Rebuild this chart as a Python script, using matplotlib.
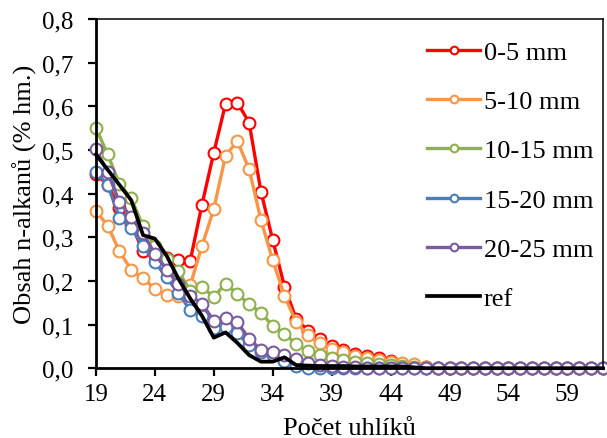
import matplotlib
matplotlib.use('Agg')
import matplotlib.pyplot as plt
from matplotlib.ticker import FuncFormatter

plt.rcParams['font.family'] = ['Liberation Serif', 'DejaVu Serif']

# pocet uhliku (C19 .. C62)
carbons = list(range(19, 63))

d_0_5 = [0.445, 0.42, 0.368, 0.33, 0.268, 0.257, 0.252, 0.248, 0.246, 0.375,
         0.494, 0.606, 0.609, 0.563, 0.405, 0.294, 0.187, 0.112, 0.086, 0.066,
         0.05, 0.042, 0.033, 0.028, 0.023, 0.016, 0.01, 0.005, 0.002, 0,
         0, 0, 0, 0, 0, 0, 0, 0, 0, 0, 0, 0, 0, 0]
d_5_10 = [0.36, 0.327, 0.268, 0.225, 0.206, 0.182, 0.168, 0.165, 0.19, 0.28,
          0.365, 0.487, 0.521, 0.456, 0.34, 0.247, 0.166, 0.105, 0.075, 0.058,
          0.045, 0.036, 0.029, 0.023, 0.019, 0.015, 0.012, 0.01, 0.003, 0,
          0, 0, 0, 0, 0, 0, 0, 0, 0, 0, 0, 0, 0, 0]
d_10_15 = [0.551, 0.49, 0.422, 0.389, 0.325, 0.28, 0.25, 0.222, 0.178, 0.186,
           0.163, 0.194, 0.17, 0.147, 0.127, 0.097, 0.079, 0.055, 0.039, 0.031,
           0.024, 0.018, 0.014, 0.012, 0.01, 0.008, 0.004, 0.002, 0, 0,
           0, 0, 0, 0, 0, 0, 0, 0, 0, 0, 0, 0, 0, 0]
d_15_20 = [0.45, 0.42, 0.345, 0.322, 0.28, 0.243, 0.208, 0.172, 0.133, 0.12,
           0.093, 0.094, 0.08, 0.054, 0.037, 0.03, 0.017, 0.004, 0, 0,
           0, 0, 0, 0, 0, 0, 0, 0, 0, 0,
           0, 0, 0, 0, 0, 0, 0, 0, 0, 0, 0, 0, 0, 0]
d_20_25 = [0.502, 0.449, 0.38, 0.346, 0.31, 0.262, 0.225, 0.193, 0.166, 0.148,
           0.109, 0.114, 0.105, 0.068, 0.042, 0.038, 0.031, 0.021, 0.013, 0.008,
           0.005, 0.003, 0.002, 0, 0, 0, 0, 0, 0, 0,
           0, 0, 0, 0, 0, 0, 0, 0, 0, 0, 0, 0, 0, 0]
ref = [0.49, 0.455, 0.42, 0.385, 0.305, 0.297, 0.258, 0.205, 0.16, 0.12,
       0.07, 0.082, 0.058, 0.03, 0.015, 0.015, 0.025, 0.007, 0.006, 0.005,
       0.005, 0.005, 0.004, 0.004, 0.004, 0.004, 0.004, 0.002, 0, 0,
       0, 0, 0, 0, 0, 0, 0, 0, 0, 0, 0, 0, 0, 0]

series = [
    ('0-5 mm', d_0_5, '#FF0000'),
    ('5-10 mm', d_5_10, '#F79646'),
    ('10-15 mm', d_10_15, '#8FB04E'),
    ('15-20 mm', d_15_20, '#4A7EBB'),
    ('20-25 mm', d_20_25, '#7A5C9E'),
]

fig = plt.figure(figsize=(6.07, 4.39), dpi=100)
ax = fig.add_axes([0.158, 0.159, 0.835, 0.795])

for label, vals, col in series:
    ax.plot(carbons, vals, color=col, lw=2.4, marker='o', ms=8.5,
            mfc='white', mec=col, mew=1.5, label=label, clip_on=False)
ax.plot(carbons, ref, color='black', lw=2.7, label='ref', clip_on=False)

ax.set_xlim(19, 62)
ax.set_ylim(0, 0.8)
ax.set_xticks(range(19, 63, 5))
ax.set_yticks([i / 10 for i in range(9)])
ax.yaxis.set_major_formatter(FuncFormatter(lambda v, p: f'{v:.1f}'.replace('.', ',')))

for s in ['left', 'bottom']:
    ax.spines[s].set_linewidth(2.0)
for s in ['top', 'right']:
    ax.spines[s].set_linewidth(1.1)

ax.tick_params(axis='both', direction='out', length=6, width=1.6, labelsize=18)
ax.tick_params(axis='y', pad=10)
ax.tick_params(axis='x', pad=5)
ax.tick_params(top=False, right=False)

ax.set_xlabel('Počet uhlíků', fontsize=19, labelpad=8)
ax.set_ylabel('Obsah n-alkanů (% hm.)', fontsize=19, labelpad=4)

ax.legend(loc='upper left', bbox_to_anchor=(0.682, 0.936),
          bbox_transform=fig.transFigure, frameon=False, fontsize=19,
          numpoints=1, handlelength=2.0, handletextpad=0.15,
          labelspacing=0.98, borderpad=0, markerscale=0.65)

fig.savefig('out.png', dpi=100)
